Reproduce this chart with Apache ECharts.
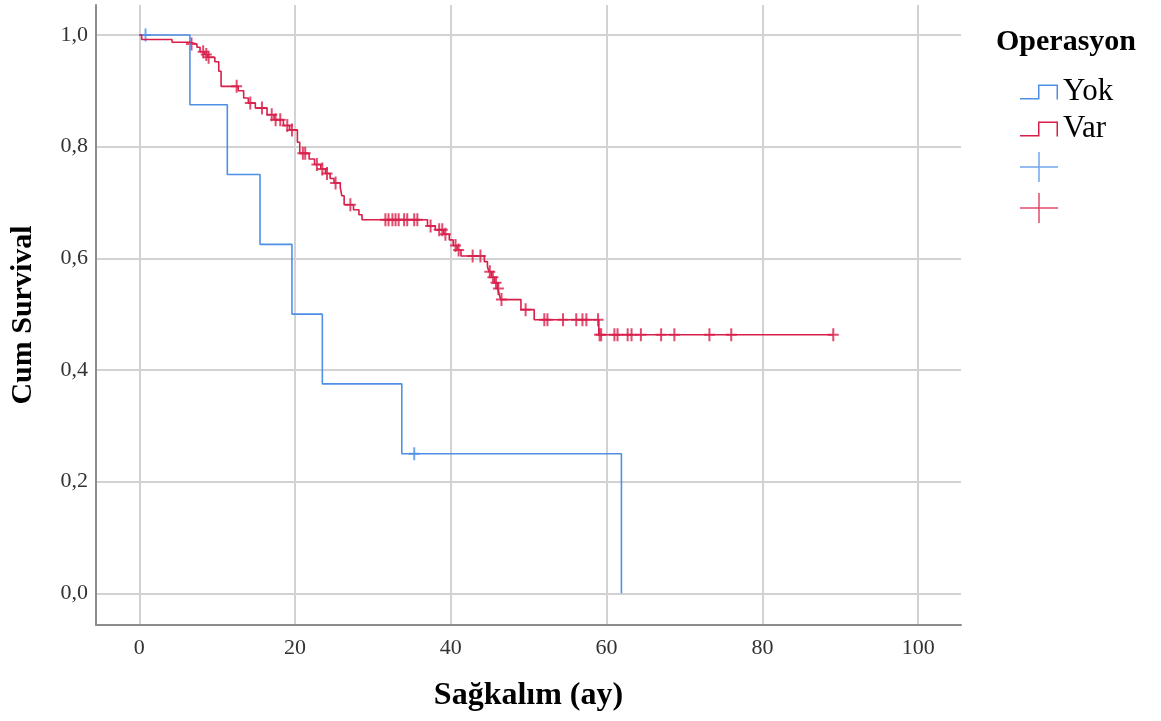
<!DOCTYPE html>
<html>
<head>
<meta charset="utf-8">
<script src="https://cdn.jsdelivr.net/npm/echarts@6/dist/echarts.min.js"></script>
<style>
  html, body { margin: 0; padding: 0; background: #fff; }
  #chart { width: 1161px; height: 721px; }
</style>
</head>
<body>
<div id="chart"></div>
<script>
// Kaplan-Meier
const yokTimes = [0, 6.5, 11.3, 15.5, 19.6, 23.5, 33.7, 61.9];
const yokSurv = [1.0, 0.875, 0.75, 0.625, 0.5, 0.375, 0.25, 0.0];
const yokCensorTimes = [0.8, 35.3];
const yokCensorSurv = [1.0, 0.25];

const varTimes = [0, 0.3, 4.2, 6.5, 7.4, 7.8, 8.4, 8.8, 9.7, 10.2, 10.5, 12.7, 13.4, 14.0, 14.9,
    16.4, 17.3, 18.5, 19.3, 20.3, 20.6, 21.8, 22.5, 23.3, 23.9, 24.5, 25.0, 25.8, 26.0, 26.3,
    27.5, 28.2, 28.6, 37.0, 38.0, 39.1, 39.8, 40.3, 40.8, 41.3, 44.3, 44.7, 44.9, 45.2, 45.6,
    46.0, 46.2, 46.4, 49.0, 50.7, 59.0, 89.1];
const varSurv = [1.0, 0.992, 0.987, 0.984, 0.978, 0.970, 0.965, 0.960, 0.952, 0.935, 0.908, 0.900, 0.887, 0.878, 0.869,
    0.857, 0.848, 0.838, 0.830, 0.808, 0.788, 0.778, 0.768, 0.760, 0.752, 0.743, 0.735, 0.727, 0.712, 0.696,
    0.687, 0.678, 0.669, 0.658, 0.651, 0.643, 0.633, 0.623, 0.615, 0.604, 0.594, 0.585, 0.576, 0.566, 0.556,
    0.546, 0.536, 0.526, 0.508, 0.490, 0.463, 0.463];
const varCensorTimes = [6.7, 8.2, 8.6, 8.9, 12.5, 14.25, 15.75, 17.0, 17.5, 18.1, 19.0, 19.6, 21.0, 21.3,
    22.8, 23.5, 24.1, 25.2, 27.1, 31.6, 32.0, 32.5, 32.9, 33.3, 34.0, 34.4, 35.3, 35.7, 37.4, 38.5, 38.9,
    39.3, 40.6, 41.0, 42.8, 43.8, 45.0, 45.4, 45.8, 46.1, 46.5, 49.6, 52.0, 52.4, 54.4, 56.1, 56.9,
    57.4, 58.9, 59.1, 59.3, 61.0, 61.4, 62.7, 63.2, 64.4, 67.0, 68.7, 73.2, 76.0, 89.1];
const varCensorSurv = [0.984, 0.970, 0.965, 0.960, 0.908, 0.878, 0.869, 0.857, 0.848, 0.848, 0.838, 0.830, 0.788, 0.788,
    0.768, 0.760, 0.752, 0.735, 0.696, 0.669, 0.669, 0.669, 0.669, 0.669, 0.669, 0.669, 0.669, 0.669, 0.658, 0.651, 0.651,
    0.643, 0.623, 0.615, 0.604, 0.604, 0.576, 0.566, 0.556, 0.546, 0.526, 0.508, 0.490, 0.490, 0.490, 0.490, 0.490,
    0.490, 0.490, 0.463, 0.463, 0.463, 0.463, 0.463, 0.463, 0.463, 0.463, 0.463, 0.463, 0.463, 0.463];

const xTicks = [0, 20, 40, 60, 80, 100];
const yTicks = [0, 0.2, 0.4, 0.6, 0.8, 1.0];

const blue = '#4f8fe6';
const red = '#d81e4a';
const serif = 'Liberation Serif';

const zip = (a, b) => a.map((v, i) => [v, b[i]]);

// legend icons: box 38x15 for the step, 38x30 for the plus
const stepIcon = 'path://M0,13.5H18V0H38V15H36.5V1.5H19.5V15H0Z';
const plusIcon = 'path://M0,14.25H18.25V0H19.75V14.25H38V15.75H19.75V30H18.25V15.75H0Z';
const plusMark = 'path://M0,5.5H4.5V0H6.5V5.5H11V7.5H6.5V13H4.5V7.5H0Z';

const chart = echarts.init(document.getElementById('chart'), null, { renderer: 'canvas' });

const option = {
    animation: false,
    title: {
        text: 'Operasyon',
        left: 991,
        top: 22,
        textStyle: { fontFamily: serif, fontSize: 30, fontWeight: 'bold', color: '#000' }
    },
    legend: [{
        data: [{ name: 'Yok', icon: stepIcon }, { name: 'Var', icon: stepIcon }],
        orient: 'vertical',
        left: 1015,
        top: 70,
        itemWidth: 38,
        itemHeight: 15,
        itemGap: 3,
        selectedMode: false,
        textStyle: { fontFamily: serif, fontSize: 31, lineHeight: 34, color: '#000' }
    }, {
        data: [{ name: 'Yok+', icon: plusIcon }, { name: 'Var+', icon: plusIcon }],
        orient: 'vertical',
        left: 1015,
        top: 147,
        itemWidth: 38,
        itemHeight: 30,
        itemGap: 11,
        selectedMode: false,
        formatter: function () { return ''; },
        textStyle: { fontFamily: serif, fontSize: 20, lineHeight: 30 }
    }],
    grid: { left: 96, right: 200, top: 5, bottom: 96 },
    xAxis: {
        type: 'value',
        min: -5.56,
        max: 105.5,
        name: 'Sağkalım (ay)',
        nameLocation: 'middle',
        nameGap: 55,
        nameTextStyle: { fontFamily: serif, fontSize: 32, fontWeight: 'bold', color: '#000' },
        axisLine: { show: true, onZero: false, lineStyle: { color: '#8c8c8c', width: 2 } },
        axisTick: { show: false, customValues: xTicks },
        axisLabel: {
            customValues: xTicks,
            fontFamily: serif, fontSize: 22, color: '#333', margin: 12
        },
        splitLine: { show: true, lineStyle: { color: '#d2d2d2', width: 2 } }
    },
    yAxis: {
        type: 'value',
        min: -0.0568,
        max: 1.0537,
        name: 'Cum Survival',
        nameLocation: 'middle',
        nameGap: 58,
        nameTextStyle: { fontFamily: serif, fontSize: 30, fontWeight: 'bold', color: '#000' },
        axisLine: { show: true, onZero: false, lineStyle: { color: '#8c8c8c', width: 2 } },
        axisTick: { show: false, customValues: yTicks },
        axisLabel: {
            customValues: yTicks,
            fontFamily: serif, fontSize: 22, color: '#333', margin: 8,
            formatter: function (v) { return v.toFixed(1).replace('.', ','); }
        },
        splitLine: { show: true, lineStyle: { color: '#d2d2d2', width: 2 } }
    },
    series: [{
        name: 'Yok',
        type: 'line',
        step: 'end',
        showSymbol: false,
        symbol: 'none',
        color: blue,
        lineStyle: { color: blue, width: 1.6 },
        data: zip(yokTimes, yokSurv)
    }, {
        name: 'Var',
        type: 'line',
        step: 'end',
        showSymbol: false,
        symbol: 'none',
        color: red,
        lineStyle: { color: red, width: 1.6 },
        data: zip(varTimes, varSurv)
    }, {
        name: 'Yok+',
        type: 'scatter',
        symbol: plusMark,
        symbolSize: [11, 13],
        color: blue,
        itemStyle: { color: blue },
        data: zip(yokCensorTimes, yokCensorSurv)
    }, {
        name: 'Var+',
        type: 'scatter',
        symbol: plusMark,
        symbolSize: [11, 13],
        color: red,
        itemStyle: { color: red },
        data: zip(varCensorTimes, varCensorSurv)
    }]
};

chart.setOption(option);
window.addEventListener('resize', function () { chart.resize(); });
</script>
</body>
</html>
